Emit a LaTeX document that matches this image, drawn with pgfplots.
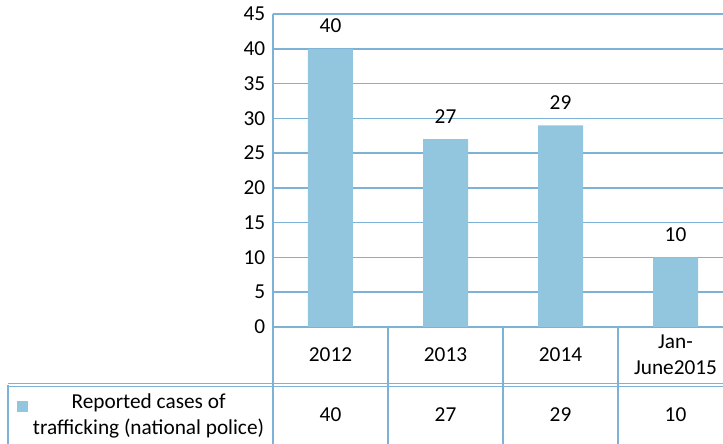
\documentclass[border=0pt]{standalone}
\usepackage{pgfplots}
\pgfplotsset{compat=1.18}
\usepackage{fontspec}
\setmainfont{Carlito}
\definecolor{barblue}{RGB}{146,197,222}
\definecolor{gridblue}{RGB}{125,178,215}

\begin{document}
\fontsize{21.3bp}{26bp}\selectfont
\begin{tikzpicture}[x=1bp,y=1bp]
\clip (-273,-117) rectangle (450,327);
\begin{axis}[
  at={(0,0)}, anchor=south west,
  scale only axis, width=460bp, height=313bp,
  xmin=-0.5, xmax=3.5, ymin=0, ymax=45,
  ytick={0,5,...,45},
  xtick={0,1,2,3},
  xticklabels={2012,2013,2014,{Jan-\\June2015}},
  extra x ticks={0,1,2,3},
  extra x tick labels={40,27,29,10},
  extra x tick style={xticklabel style={yshift=-60bp}},
  ybar, bar width=45bp,
  axis x line*=bottom, axis y line*=left,
  axis line style={gridblue, line width=1.6bp, -},
  ymajorgrids, grid style={gridblue, line width=1.6bp},
  major tick length=0pt,
  clip=false,
  /pgf/number format/assume math mode=true,
  yticklabel style={xshift=-0.5bp},
  xticklabel style={anchor=center, yshift=-28bp, align=center},
  nodes near coords,
  nodes near coords style={anchor=center, yshift=23bp, black},
  legend style={at={(axis description cs:-0.5565,-0.2029)}, anchor=north west,
    draw=none, fill=none, inner sep=0pt, outer sep=0pt,
    nodes={inner sep=0pt}, column sep=5bp, cells={anchor=base}},
  legend image code/.code={\fill[barblue] (0bp,-3bp) rectangle (11bp,8bp);},
]
\addplot[fill=barblue, draw=none] coordinates {(0,40) (1,27) (2,29) (3,10)};
\legend{\begin{tabular}[t]{@{}c@{}}Reported cases of\\trafficking (national police)\end{tabular}}
\end{axis}
\begin{scope}[gridblue, line width=1.6bp]
  \foreach \xx in {0,115,230,345} \draw (\xx,0) -- (\xx,-117);
  \draw[line width=1.3bp] (-265,-56.8) -- (460,-56.8);
  \draw[line width=1.3bp] (-265,-59.6) -- (460,-59.6);
  \draw (-265,-58) -- (-265,-117);
\end{scope}
\end{tikzpicture}
\end{document}
